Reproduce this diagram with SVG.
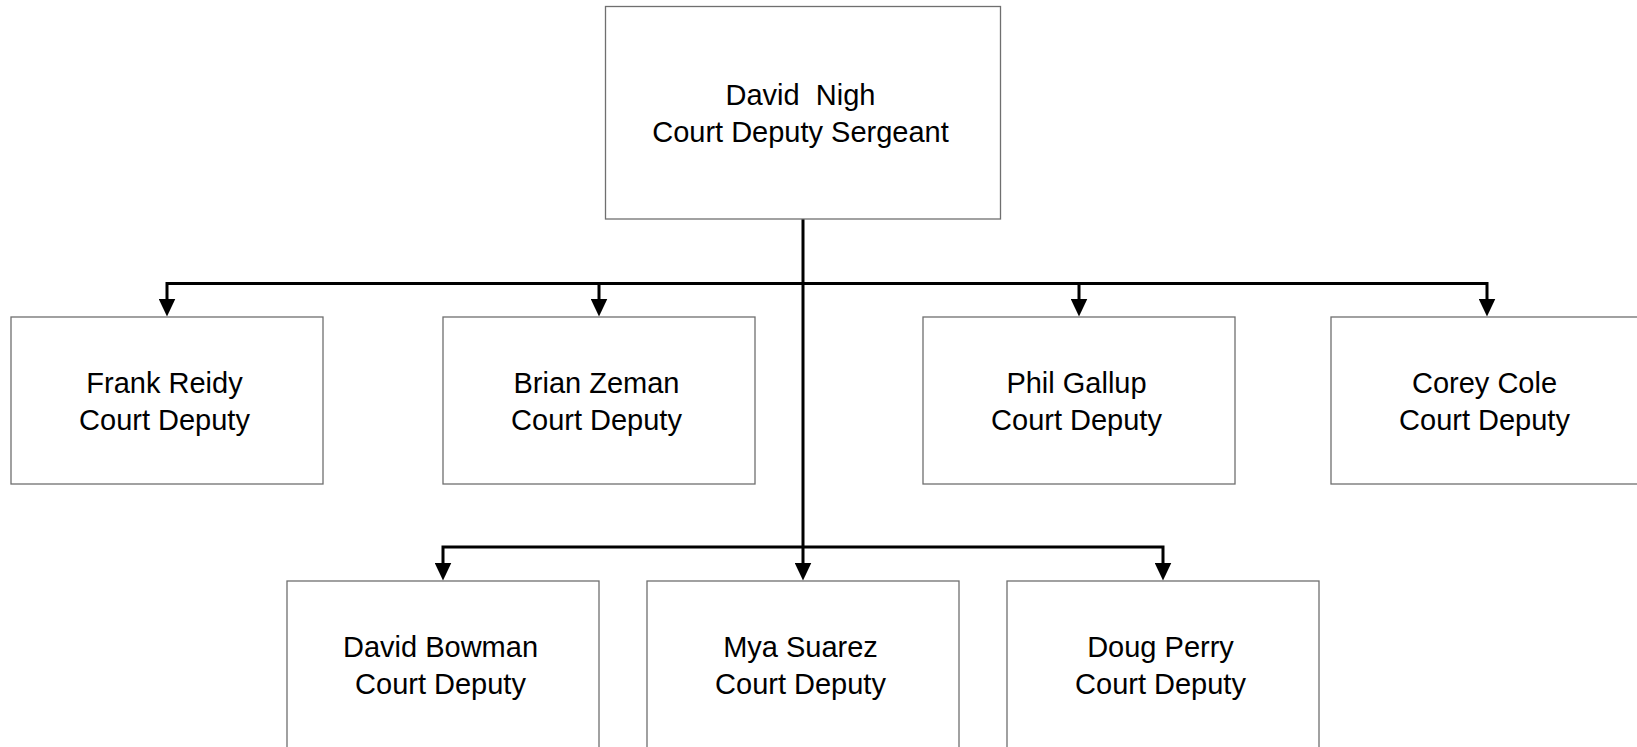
<svg xmlns="http://www.w3.org/2000/svg" width="1637" height="747" viewBox="0 0 1637 747">
<style>
.box{fill:#fff;stroke:#6f6f6f;stroke-width:1.3}
.t{font-family:"Liberation Sans",Arial,sans-serif;font-size:29px;fill:#000;text-anchor:middle}
.c{fill:none;stroke:#000;stroke-width:3}
</style>
<defs>
<marker id="ah" markerUnits="userSpaceOnUse" viewBox="0 0 18 17" markerWidth="18" markerHeight="17" refX="8" refY="8.5" orient="auto">
<path d="M0,0 L18,8.5 L0,17 z" fill="#000"/>
</marker>
</defs>
<rect width="1637" height="747" fill="#fff"/>
<g id="connectors">
<path class="c" d="M803,219 V570.5" marker-end="url(#ah)"/>
<path class="c" d="M803,283.5 H167 V306.5" marker-end="url(#ah)"/>
<path class="c" d="M803,283.5 H599 V306.5" marker-end="url(#ah)"/>
<path class="c" d="M803,283.5 H1079 V306.5" marker-end="url(#ah)"/>
<path class="c" d="M803,283.5 H1487 V306.5" marker-end="url(#ah)"/>
<path class="c" d="M803,547 H443 V570.5" marker-end="url(#ah)"/>
<path class="c" d="M803,547 H1163 V570.5" marker-end="url(#ah)"/>
</g>
<g id="david-nigh">
<rect class="box" x="605.5" y="6.5" width="395" height="212.5"/>
<text class="t" x="800.5" y="105" xml:space="preserve">David  Nigh</text>
<text class="t" x="800.5" y="141.5">Court Deputy Sergeant</text>
</g>
<g id="frank-reidy">
<rect class="box" x="11" y="317" width="312" height="167"/>
<text class="t" x="164.5" y="392.5">Frank Reidy</text>
<text class="t" x="164.5" y="429.5">Court Deputy</text>
</g>
<g id="brian-zeman">
<rect class="box" x="443" y="317" width="312" height="167"/>
<text class="t" x="596.5" y="392.5">Brian Zeman</text>
<text class="t" x="596.5" y="429.5">Court Deputy</text>
</g>
<g id="phil-gallup">
<rect class="box" x="923" y="317" width="312" height="167"/>
<text class="t" x="1076.5" y="392.5">Phil Gallup</text>
<text class="t" x="1076.5" y="429.5">Court Deputy</text>
</g>
<g id="corey-cole">
<rect class="box" x="1331" y="317" width="312" height="167"/>
<text class="t" x="1484.5" y="392.5">Corey Cole</text>
<text class="t" x="1484.5" y="429.5">Court Deputy</text>
</g>
<g id="david-bowman">
<rect class="box" x="287" y="581" width="312" height="200"/>
<text class="t" x="440.5" y="657">David Bowman</text>
<text class="t" x="440.5" y="694">Court Deputy</text>
</g>
<g id="mya-suarez">
<rect class="box" x="647" y="581" width="312" height="200"/>
<text class="t" x="800.5" y="657">Mya Suarez</text>
<text class="t" x="800.5" y="694">Court Deputy</text>
</g>
<g id="doug-perry">
<rect class="box" x="1007" y="581" width="312" height="200"/>
<text class="t" x="1160.5" y="657">Doug Perry</text>
<text class="t" x="1160.5" y="694">Court Deputy</text>
</g>
</svg>
